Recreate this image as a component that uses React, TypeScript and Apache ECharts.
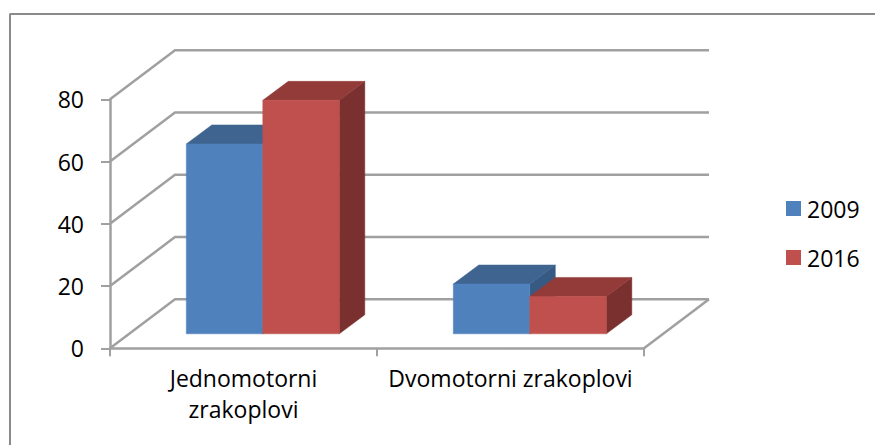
import React, { useEffect, useRef } from "react";
import * as echarts from "echarts";

const categories = ["Jednomotorni\nzrakoplovi", "Dvomotorni zrakoplovi"];
const values2009 = [61, 16];
const values2016 = [75, 12];
const tickValues = [0, 20, 40, 60, 80];
const seriesNames = ["2009", "2016"];

const FONT = "'Open Sans', sans-serif";
const GRAY = "#a0a0a0";
const WALL_DX = 65;
const WALL_DY = -49;
const BAR_BASE_DX = 19.3;
const BAR_BASE_DY = -14.5;
const BAR_DX = 25.5;
const BAR_DY = -19;
const BAR_FRACTION = 0.2865;

const palette = [
  { front: "#4F81BD", top: "#3F6490", side: "#375A85" },
  { front: "#C0504D", top: "#933B39", side: "#79302E" },
];

const makeBarRender = (serial: number) => (_p: any, api: any) => {
  const cat = api.value(0);
  const val = api.value(1);
  const band = api.size([1, 0])[0];
  const w = band * BAR_FRACTION;
  const base = api.coord([cat, 0]);
  const topP = api.coord([cat, val]);
  const x0 = base[0] - w + serial * w + BAR_BASE_DX;
  const x1 = x0 + w;
  const y0 = base[1] + BAR_BASE_DY;
  const y1 = topP[1] + BAR_BASE_DY;
  const c = palette[serial];
  const poly = (points: number[][], fill: string) => ({
    type: "polygon",
    shape: { points },
    style: { fill, stroke: fill, lineWidth: 0.5 },
  });
  return {
    type: "group",
    children: [
      poly([[x1, y0], [x1 + BAR_DX, y0 + BAR_DY], [x1 + BAR_DX, y1 + BAR_DY], [x1, y1]], c.side),
      poly([[x0, y1], [x1, y1], [x1 + BAR_DX, y1 + BAR_DY], [x0 + BAR_DX, y1 + BAR_DY]], c.top),
      poly([[x0, y0], [x1, y0], [x1, y1], [x0, y1]], c.front),
    ],
  };
};

const renderWall = (_p: any, api: any) => {
  const val = api.value(1);
  const band = api.size([1, 0])[0];
  const p = api.coord([0, val]);
  const left = p[0] - band / 2;
  const right = left + band * categories.length;
  const y = p[1];
  const lineStyle = { stroke: GRAY, lineWidth: 2.5, fill: "none" };
  const children: any[] = [
    {
      type: "polyline",
      shape: { points: [[left, y], [left + WALL_DX, y + WALL_DY], [right + WALL_DX, y + WALL_DY]] },
      style: lineStyle,
    },
  ];
  if (val === 0) {
    children.push({
      type: "line",
      shape: { x1: right, y1: y, x2: right + WALL_DX, y2: y + WALL_DY },
      style: lineStyle,
    });
  }
  return { type: "group", children };
};

export default function App() {
  const ref = useRef<HTMLDivElement>(null);
  useEffect(() => {
    const chart = echarts.init(ref.current!, undefined, { renderer: "svg" });
    chart.setOption({
      animation: false,
      backgroundColor: "#ffffff",
      textStyle: { fontFamily: FONT },
      grid: { left: 110, top: 99.3, width: 534, height: 249, containLabel: false },
      graphic: [
        { type: "line", shape: { x1: 9.5, y1: 14, x2: 875, y2: 14 }, style: { stroke: "#8a8a8a", lineWidth: 2 } },
        { type: "line", shape: { x1: 10, y1: 14, x2: 10, y2: 445 }, style: { stroke: "#8a8a8a", lineWidth: 2 } },
      ],
      legend: {
        data: seriesNames,
        orient: "vertical",
        left: 781,
        top: 192,
        itemWidth: 15,
        itemHeight: 15,
        itemGap: 26,
        icon: "rect",
        textStyle: { fontFamily: FONT, fontSize: 23, color: "#000", padding: [0, 0, 0, 1] },
      },
      xAxis: {
        type: "category",
        data: categories,
        axisLine: { lineStyle: { color: GRAY, width: 2.5 } },
        axisTick: { show: true, length: 8, lineStyle: { color: GRAY, width: 2 } },
        axisLabel: { color: "#000", fontFamily: FONT, fontSize: 23, lineHeight: 31, margin: 14, interval: 0 },
        z: 1,
      },
      yAxis: {
        type: "value",
        min: 0,
        max: 80,
        interval: 20,
        splitLine: { show: false },
        axisLine: { show: true, lineStyle: { color: GRAY, width: 2.5 } },
        axisTick: { show: true, length: 9, lineStyle: { color: GRAY, width: 2 } },
        axisLabel: { color: "#000", fontFamily: FONT, fontSize: 23, margin: 26 },
      },
      series: [
        {
          type: "custom",
          name: "walls",
          renderItem: renderWall,
          clip: false,
          silent: true,
          encode: { x: 0, y: 1 },
          data: tickValues.map((v) => [0, v]),
          z: 1,
        },
        {
          type: "custom",
          name: seriesNames[0],
          renderItem: makeBarRender(0),
          clip: false,
          encode: { x: 0, y: 1 },
          itemStyle: { color: palette[0].front },
          data: values2009.map((v, i) => [i, v]),
          z: 2,
        },
        {
          type: "custom",
          name: seriesNames[1],
          renderItem: makeBarRender(1),
          clip: false,
          encode: { x: 0, y: 1 },
          itemStyle: { color: palette[1].front },
          data: values2016.map((v, i) => [i, v]),
          z: 3,
        },
      ],
    });
    return () => chart.dispose();
  }, []);
  return <div ref={ref} style={{ position: "absolute", left: 0, top: 0, width: 875, height: 445 }} />;
}
